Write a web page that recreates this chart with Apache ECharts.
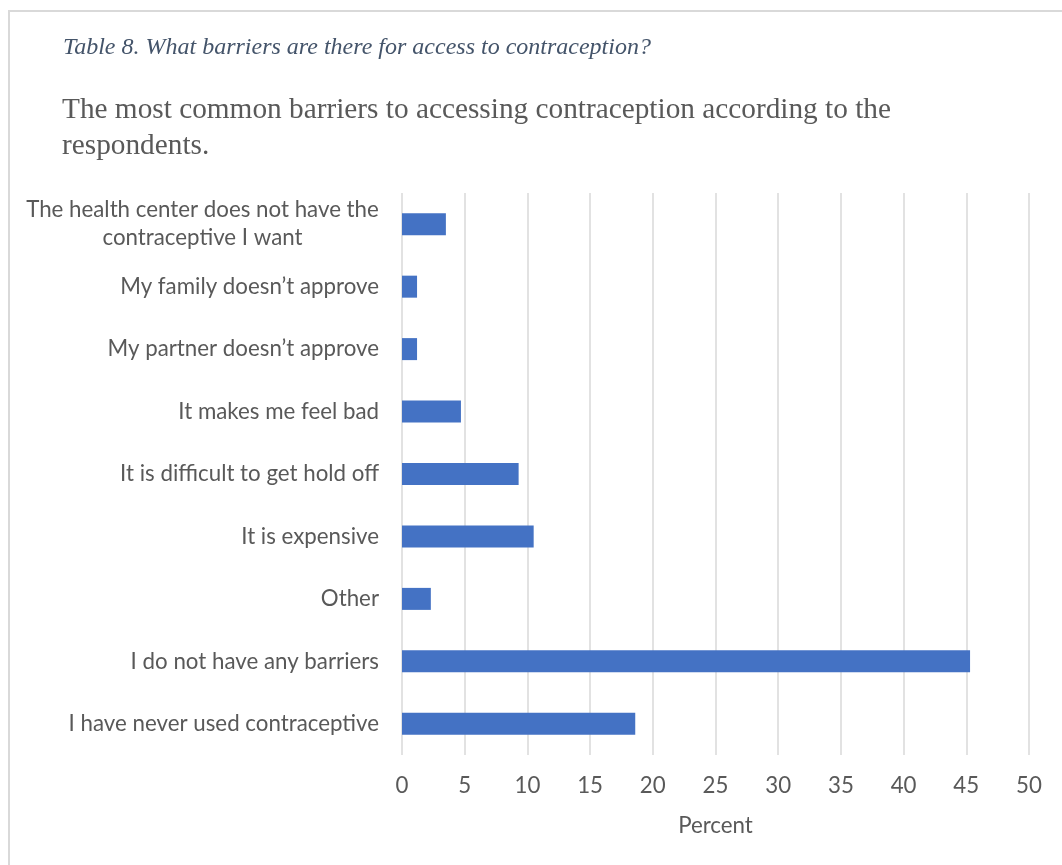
<!DOCTYPE html>
<html>
<head>
<meta charset="utf-8">
<script src="https://cdn.jsdelivr.net/npm/echarts@6/dist/echarts.min.js"></script>
<style>
  html, body { margin: 0; padding: 0; background: #ffffff; }
  #chart { width: 1062px; height: 865px; }
</style>
</head>
<body>
<div id="chart"></div>
<script>
// Barrier categories, listed top to bottom
const categories = [
  'The health center does not have the\ncontraceptive I want',
  'My family doesn\u2019t approve',
  'My partner doesn\u2019t approve',
  'It makes me feel bad',
  'It is difficult to get hold off',
  'It is expensive',
  'Other',
  'I do not have any barriers',
  'I have never used contraceptive'
];

// Share of respondents (percent)
const percentValues = [3.5, 1.2, 1.2, 4.7, 9.3, 10.5, 2.3, 45.3, 18.6];

// Value axis ticks
const axisMin = 0;
const axisMax = 50;
const axisStep = 5;

const captionText = 'Table 8. What barriers are there for access to contraception?';
const titleText = 'The most common barriers to accessing contraception according to the\nrespondents.';
const axisName = 'Percent';

const labelFont = 'Lato, "Open Sans", sans-serif';
const labelSize = 22.3;
const labelColor = '#595959';

// Wrapped category labels are centred line by line inside the width of their longest line
const measureCtx = document.createElement('canvas').getContext('2d');
measureCtx.font = labelSize + 'px ' + labelFont;
function blockWidth(value) {
  return Math.ceil(Math.max.apply(null, value.split('\n').map(l => measureCtx.measureText(l).width)));
}
function formatCategory(value) {
  const lines = value.split('\n');
  if (lines.length === 1) return value;
  const key = 'c' + blockWidth(value);
  return lines.map(l => '{' + key + '|' + l + '}').join('\n');
}
const richStyles = {};
categories.forEach(c => {
  if (c.indexOf('\n') >= 0) {
    richStyles['c' + blockWidth(c)] = {
      width: blockWidth(c), align: 'center',
      fontFamily: labelFont, fontSize: labelSize, color: labelColor, lineHeight: 28
    };
  }
});

const chart = echarts.init(document.getElementById('chart'), null, { renderer: 'canvas' });

chart.setOption({
  backgroundColor: '#ffffff',
  animation: false,
  graphic: [{
    type: 'rect',
    shape: { x: 9, y: 11, width: 1200, height: 1000 },
    style: { fill: 'none', stroke: '#d9d9d9', lineWidth: 2 },
    silent: true,
    z: -1
  }],
  title: [{
    text: captionText,
    left: 58,
    top: 31,
    textStyle: {
      fontFamily: '"Liberation Serif", "DejaVu Serif", serif',
      fontStyle: 'italic',
      fontWeight: 'normal',
      fontSize: 24,
      color: '#44546a'
    }
  }, {
    text: titleText,
    left: 57,
    top: 87,
    textStyle: {
      fontFamily: '"Liberation Serif", "DejaVu Serif", serif',
      fontWeight: 'normal',
      fontSize: 29.3,
      lineHeight: 36,
      color: '#595959'
    }
  }],
  grid: {
    left: 402,
    right: 33,
    top: 193,
    bottom: 110,
    containLabel: false
  },
  xAxis: {
    type: 'value',
    min: axisMin,
    max: axisMax,
    interval: axisStep,
    name: axisName,
    nameLocation: 'middle',
    nameGap: 60,
    nameTextStyle: { fontFamily: labelFont, fontSize: labelSize, color: labelColor },
    axisLine: { show: false },
    axisTick: { show: false },
    axisLabel: { margin: 20, fontFamily: labelFont, fontSize: labelSize, color: labelColor },
    splitLine: { show: true, lineStyle: { color: '#d9d9d9', width: 1.5 } }
  },
  yAxis: {
    type: 'category',
    data: categories,
    inverse: true,
    axisLine: { show: false },
    axisTick: { show: false },
    splitLine: { show: false },
    axisLabel: {
      margin: 23,
      fontFamily: labelFont,
      fontSize: labelSize,
      color: labelColor,
      lineHeight: 28,
      formatter: formatCategory,
      rich: richStyles
    }
  },
  series: [{
    type: 'bar',
    data: percentValues,
    barWidth: 22,
    itemStyle: { color: '#4472c4' }
  }]
});
</script>
</body>
</html>
